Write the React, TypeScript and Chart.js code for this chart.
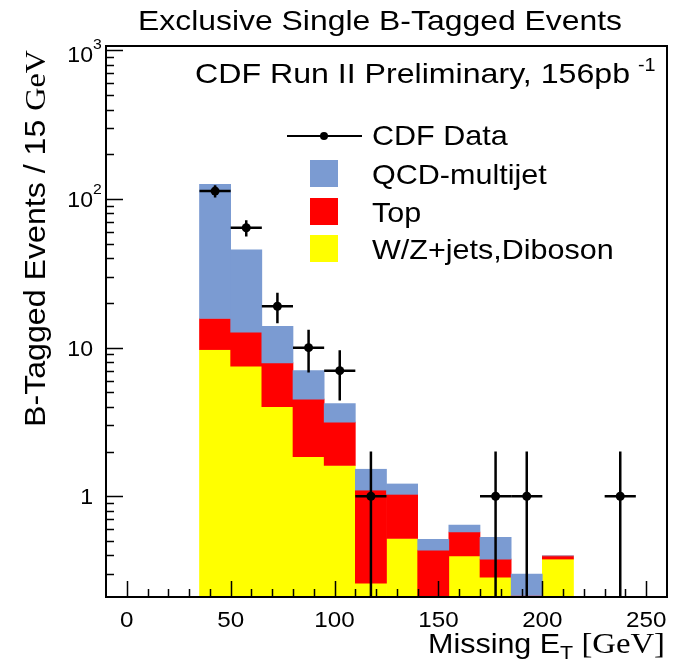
import React, { useEffect, useRef } from "react";
import { Chart, registerables } from "chart.js";
Chart.register(...registerables);

// ---- data ----
const binCenters = [42.5, 57.5, 72.5, 87.5, 102.5, 117.5, 132.5, 147.5, 162.5, 177.5, 192.5, 207.5, 222.5, 237.5, 252.5];
const wzJets = [9.7, 7.5, 4.0, 1.85, 1.61, 0.26, 0.52, 0, 0.397, 0.285, 0, 0.378, 0, 0, 0];
const topQuark = [6.0, 5.2, 3.9, 2.65, 1.54, 0.84, 0.51, 0.434, 0.178, 0.093, 0.215, 0.019, 0, 0, 0];
const qcdMultijet = [110, 32.8, 6.0, 2.5, 1.05, 0.42, 0.18, 0.08, 0.065, 0.152, 0.085, 0, 0, 0, 0];

const dataX = [42.5, 57.5, 72.5, 87.5, 102.5, 117.5, 177.5, 192.5, 237.5];
const dataY = [113, 64, 19, 10, 7, 1, 1, 1, 1];
const dataErr = [10.6, 8, 4.4, 3.2, 2.6, 1, 1, 1, 1];
const binHalfWidth = 7.5;

const xTicksMajor = [0, 50, 100, 150, 200, 250];
const yTicksMajor = [1, 10, 100, 1000];
const yTickBase = ["1", "10", "10", "10"];
const yTickExp = ["", "", "2", "3"];

const TITLE = "Exclusive Single B-Tagged Events";
const INFO = "CDF Run II Preliminary, 156pb";
const LEGEND = ["CDF Data", "QCD-multijet", "Top", "W/Z+jets,Diboson"];

const X_MIN = -10, X_MAX = 260, Y_MIN = 0.21, Y_MAX = 1070;
const FLOOR = 0.01;
const BLUE = "rgb(123,155,210)", RED = "#ff0000", YELLOW = "#ffff00";
const SANS = '"Liberation Sans", Arial, sans-serif';
const SERIF = '"Liberation Serif", "Times New Roman", serif';
const SX = 1.1; // horizontal stretch of the reference text

function floating(lower: number[][], comp: number[]) {
  return binCenters.map((x, i) => {
    const lo = lower.reduce((s, a) => s + a[i], 0);
    const hi = lo + comp[i];
    return { x, y: [lo > 0 ? lo : FLOOR, hi > 0 ? hi : FLOOR] };
  });
}

type Part = { t: string; f: string; dy?: number };
// draws a run of text parts starting at x (left), optionally fitted to a width
function drawRun(ctx: any, parts: Part[], x: number, y: number, sx: number | null, width?: number, align?: string) {
  let total = 0;
  const ws = parts.map((p) => {
    ctx.font = p.f;
    const w = ctx.measureText(p.t).width;
    total += w;
    return w;
  });
  const s = width ? width / total : sx || 1;
  let x0 = x;
  if (align === "right") x0 = x - total * s;
  if (align === "center") x0 = x - (total * s) / 2;
  ctx.save();
  ctx.translate(x0, y);
  ctx.scale(s, 1);
  ctx.textAlign = "left";
  let cx = 0;
  parts.forEach((p, i) => {
    ctx.font = p.f;
    ctx.fillText(p.t, cx, p.dy || 0);
    cx += ws[i];
  });
  ctx.restore();
}

const overlay = {
  id: "overlay",
  afterDatasetsDraw(chart: any) {
    const { ctx, chartArea: ca, scales } = chart;
    const xs = scales.x, ys = scales.y;
    ctx.save();
    // error bars
    ctx.save();
    ctx.beginPath();
    ctx.rect(ca.left, ca.top, ca.right - ca.left, ca.bottom - ca.top);
    ctx.clip();
    ctx.strokeStyle = "#000";
    ctx.lineWidth = 2.5;
    dataX.forEach((x, i) => {
      const y = dataY[i];
      const px = xs.getPixelForValue(x);
      const py = ys.getPixelForValue(y);
      const lo = y - dataErr[i];
      const pyLo = lo > 0 ? ys.getPixelForValue(lo) : ca.bottom + 5;
      const pyHi = ys.getPixelForValue(y + dataErr[i]);
      ctx.beginPath();
      ctx.moveTo(px, pyHi); ctx.lineTo(px, pyLo);
      ctx.moveTo(xs.getPixelForValue(x - binHalfWidth), py);
      ctx.lineTo(xs.getPixelForValue(x + binHalfWidth), py);
      ctx.stroke();
    });
    ctx.restore();

    // ticks (inside the frame)
    ctx.strokeStyle = "#000";
    ctx.lineWidth = 1.5;
    ctx.beginPath();
    for (let v = 0; v < X_MAX; v += 10) {
      const px = Math.round(xs.getPixelForValue(v)) + 0.5;
      const len = v % 50 === 0 ? 16 : 8;
      ctx.moveTo(px, ca.bottom); ctx.lineTo(px, ca.bottom - len);
    }
    for (let d = -1; d <= 3; d++) {
      for (let k = 1; k <= 9; k++) {
        const v = k * Math.pow(10, d);
        if (v < Y_MIN || v > Y_MAX) continue;
        const py = Math.round(ys.getPixelForValue(v)) + 0.5;
        const len = k === 1 ? 17 : 8;
        ctx.moveTo(ca.left, py); ctx.lineTo(ca.left + len, py);
      }
    }
    ctx.stroke();

    // frame
    ctx.lineWidth = 2;
    ctx.strokeRect(ca.left, ca.top, ca.right - ca.left, ca.bottom - ca.top);

    ctx.fillStyle = "#000";
    ctx.textBaseline = "alphabetic";
    // x tick labels
    xTicksMajor.forEach((v) => {
      drawRun(ctx, [{ t: String(v), f: `22px ${SANS}` }], xs.getPixelForValue(v), ca.bottom + 30, SX, undefined, "center");
    });
    // y tick labels
    yTicksMajor.forEach((v, i) => {
      let py = ys.getPixelForValue(v) + 8;
      if (py < ca.top + 16) py = ca.top + 16;
      drawRun(ctx, [{ t: yTickBase[i], f: `22px ${SANS}` }], ca.left - 13, py, 1.05, undefined, "right");
      if (yTickExp[i]) {
        drawRun(ctx, [{ t: yTickExp[i], f: `15px ${SANS}` }], ca.left - 13, py - 13, 1.05);
      }
    });

    // title
    drawRun(ctx, [{ t: TITLE, f: `28px ${SANS}` }], 380, 30, null, 484, "center");

    // info text
    drawRun(ctx, [{ t: INFO, f: `28px ${SANS}` }], 195, 83, null, 435);
    drawRun(ctx, [{ t: "-1", f: `18px ${SANS}` }], 638, 71, SX);

    // legend
    ctx.lineWidth = 2;
    ctx.beginPath();
    ctx.moveTo(287, 136); ctx.lineTo(362, 136);
    ctx.stroke();
    ctx.beginPath();
    ctx.arc(324, 136, 4, 0, Math.PI * 2);
    ctx.fill();
    drawRun(ctx, [{ t: LEGEND[0], f: `28px ${SANS}` }], 372, 145, 1.09);
    const boxes = [BLUE, RED, YELLOW];
    const boxY = [160, 198, 235];
    boxes.forEach((c, i) => {
      ctx.fillStyle = c;
      ctx.fillRect(310, boxY[i], 28, 27);
      ctx.fillStyle = "#000";
      drawRun(ctx, [{ t: LEGEND[i + 1], f: `28px ${SANS}` }], 372, boxY[i] + 24, 1.09);
    });

    // x axis title
    drawRun(
      ctx,
      [
        { t: "Missing E", f: `27px ${SANS}` },
        { t: "T", f: `19px ${SANS}`, dy: 6 },
        { t: " [GeV]", f: `29px ${SERIF}` },
      ],
      665, 653, null, 237, "right"
    );

    // y axis title
    ctx.save();
    ctx.translate(45, ca.top + 4);
    ctx.rotate(-Math.PI / 2);
    drawRun(
      ctx,
      [
        { t: "B-Tagged Events / 15 ", f: `30px ${SANS}` },
        { t: "GeV", f: `30px ${SERIF}` },
      ],
      0, 0, null, 377, "right"
    );
    ctx.restore();

    ctx.restore();
  },
};

export default function App() {
  const ref = useRef<HTMLCanvasElement>(null);
  useEffect(() => {
    const cfg: any = {
      type: "bar",
      data: {
        datasets: [
          {
            type: "scatter",
            label: LEGEND[0],
            data: dataX.map((x, i) => ({ x, y: dataY[i] })),
            pointRadius: 4.5,
            pointBackgroundColor: "#000",
            pointBorderWidth: 0,
            order: 0,
          },
          {
            label: LEGEND[1],
            data: floating([wzJets, topQuark], qcdMultijet),
            backgroundColor: BLUE,
            order: 1,
          },
          {
            label: LEGEND[2],
            data: floating([wzJets], topQuark),
            backgroundColor: RED,
            order: 2,
          },
          {
            label: LEGEND[3],
            data: floating([], wzJets),
            backgroundColor: YELLOW,
            order: 3,
          },
        ],
      },
      options: {
        animation: false,
        responsive: false,
        devicePixelRatio: 1,
        layout: { padding: { left: 106, top: 46, right: 14, bottom: 71 } },
        datasets: {
          bar: {
            grouped: false,
            categoryPercentage: 1,
            barPercentage: 1,
            borderWidth: 0,
          },
        },
        scales: {
          x: { type: "linear", min: X_MIN, max: X_MAX, display: false, offset: false },
          y: { type: "logarithmic", min: Y_MIN, max: Y_MAX, display: false },
        },
        plugins: { legend: { display: false }, tooltip: { enabled: false }, title: { display: false } },
      },
      plugins: [overlay],
    };
    const chart = new Chart(ref.current as HTMLCanvasElement, cfg);
    return () => chart.destroy();
  }, []);
  return (
    <div style={{ position: "absolute", left: 0, top: 0, width: 681, height: 668, background: "#fff" }}>
      <canvas ref={ref} width={681} height={668} style={{ display: "block" }} />
    </div>
  );
}
